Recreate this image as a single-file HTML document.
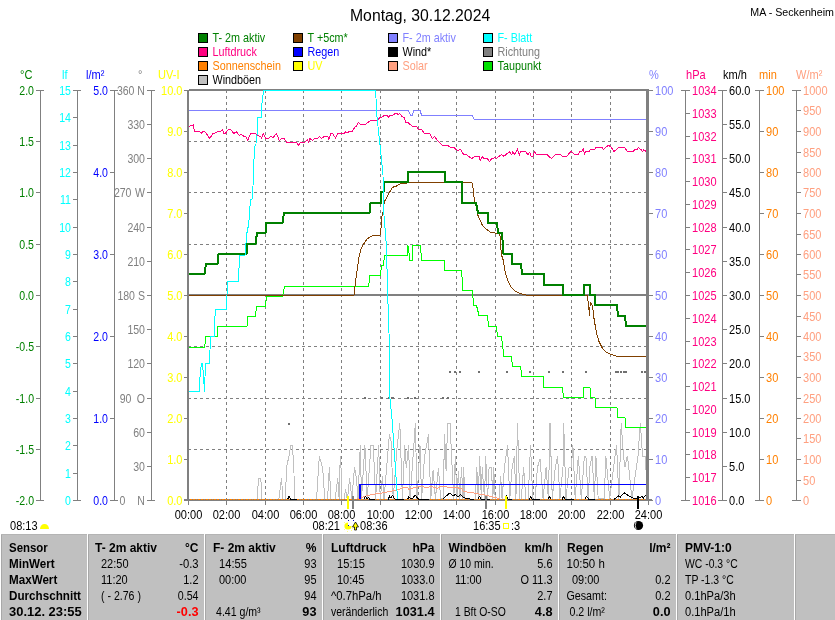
<!DOCTYPE html><html><head><meta charset='utf-8'><style>html,body{margin:0;padding:0;background:#fff;overflow:hidden}svg{display:block;will-change:transform}</style></head><body><svg width='835' height='620' viewBox='0 0 835 620' font-family='Liberation Sans'>
<rect x='0' y='0' width='835' height='620' fill='#ffffff'/>
<text transform='translate(350,20.5) scale(0.985,1)' text-anchor='start' font-size='16' fill='#000'>Montag, 30.12.2024</text>
<text transform='translate(834,16) scale(0.93,1)' text-anchor='end' font-size='11.5' fill='#000'>MA - Seckenheim</text>
<rect x='198.5' y='33.5' width='9' height='9' fill='#008000' stroke='#000' stroke-width='1'/>
<text transform='translate(212.5,42) scale(0.9,1)' text-anchor='start' font-size='12' fill='#008000'>T- 2m aktiv</text>
<rect x='198.5' y='47.5' width='9' height='9' fill='#ff0080' stroke='#000' stroke-width='1'/>
<text transform='translate(212.5,56) scale(0.9,1)' text-anchor='start' font-size='12' fill='#ff0080'>Luftdruck</text>
<rect x='198.5' y='61.5' width='9' height='9' fill='#ff8000' stroke='#000' stroke-width='1'/>
<text transform='translate(212.5,70) scale(0.9,1)' text-anchor='start' font-size='12' fill='#ff8000'>Sonnenschein</text>
<rect x='198.5' y='75.5' width='9' height='9' fill='#c0c0c0' stroke='#000' stroke-width='1'/>
<text transform='translate(212.5,84) scale(0.9,1)' text-anchor='start' font-size='12' fill='#000000'>Windböen</text>
<rect x='293.5' y='33.5' width='9' height='9' fill='#804000' stroke='#000' stroke-width='1'/>
<text transform='translate(307.5,42) scale(0.9,1)' text-anchor='start' font-size='12' fill='#008000'>T +5cm*</text>
<rect x='293.5' y='47.5' width='9' height='9' fill='#0000ff' stroke='#000' stroke-width='1'/>
<text transform='translate(307.5,56) scale(0.9,1)' text-anchor='start' font-size='12' fill='#0000ff'>Regen</text>
<rect x='293.5' y='61.5' width='9' height='9' fill='#ffff00' stroke='#000' stroke-width='1'/>
<text transform='translate(307.5,70) scale(0.9,1)' text-anchor='start' font-size='12' fill='#ffff00'>UV</text>
<rect x='388.5' y='33.5' width='9' height='9' fill='#8080ff' stroke='#000' stroke-width='1'/>
<text transform='translate(402.5,42) scale(0.9,1)' text-anchor='start' font-size='12' fill='#8080ff'>F- 2m aktiv</text>
<rect x='388.5' y='47.5' width='9' height='9' fill='#000000' stroke='#000' stroke-width='1'/>
<text transform='translate(402.5,56) scale(0.9,1)' text-anchor='start' font-size='12' fill='#000000'>Wind*</text>
<rect x='388.5' y='61.5' width='9' height='9' fill='#ffa080' stroke='#000' stroke-width='1'/>
<text transform='translate(402.5,70) scale(0.9,1)' text-anchor='start' font-size='12' fill='#ffa080'>Solar</text>
<rect x='483.5' y='33.5' width='9' height='9' fill='#00ffff' stroke='#000' stroke-width='1'/>
<text transform='translate(497.5,42) scale(0.9,1)' text-anchor='start' font-size='12' fill='#00ffff'>F- Blatt</text>
<rect x='483.5' y='47.5' width='9' height='9' fill='#808080' stroke='#000' stroke-width='1'/>
<text transform='translate(497.5,56) scale(0.9,1)' text-anchor='start' font-size='12' fill='#808080'>Richtung</text>
<rect x='483.5' y='61.5' width='9' height='9' fill='#00e000' stroke='#000' stroke-width='1'/>
<text transform='translate(497.5,70) scale(0.9,1)' text-anchor='start' font-size='12' fill='#008000'>Taupunkt</text>
<text transform='translate(20,79) scale(0.92,1)' text-anchor='start' font-size='12' fill='#008000'>°C</text>
<text transform='translate(62,79) scale(0.92,1)' text-anchor='start' font-size='12' fill='#00ffff'>lf</text>
<text transform='translate(86,79) scale(0.92,1)' text-anchor='start' font-size='12' fill='#0000ff'>l/m²</text>
<text transform='translate(138,79) scale(0.92,1)' text-anchor='start' font-size='12' fill='#808080'>°</text>
<text transform='translate(158,79) scale(0.92,1)' text-anchor='start' font-size='12' fill='#ffff00'>UV-I</text>
<text transform='translate(649,79) scale(0.92,1)' text-anchor='start' font-size='12' fill='#8080ff'>%</text>
<text transform='translate(686,79) scale(0.92,1)' text-anchor='start' font-size='12' fill='#ff0080'>hPa</text>
<text transform='translate(723,79) scale(0.92,1)' text-anchor='start' font-size='12' fill='#000000'>km/h</text>
<text transform='translate(759,79) scale(0.92,1)' text-anchor='start' font-size='12' fill='#ff8000'>min</text>
<text transform='translate(796,79) scale(0.92,1)' text-anchor='start' font-size='12' fill='#ffa080'>W/m²</text>
<rect x='40' y='90' width='1' height='411' fill='#808080'/>
<rect x='36' y='90' width='8' height='1' fill='#808080'/>
<rect x='36' y='500' width='8' height='1' fill='#808080'/>
<text transform='translate(34,95) scale(0.88,1)' text-anchor='end' font-size='12' fill='#008000'>2.0</text>
<rect x='36' y='141' width='4' height='1' fill='#808080'/>
<text transform='translate(34,146) scale(0.88,1)' text-anchor='end' font-size='12' fill='#008000'>1.5</text>
<rect x='36' y='192' width='4' height='1' fill='#808080'/>
<text transform='translate(34,197) scale(0.88,1)' text-anchor='end' font-size='12' fill='#008000'>1.0</text>
<rect x='36' y='244' width='4' height='1' fill='#808080'/>
<text transform='translate(34,249) scale(0.88,1)' text-anchor='end' font-size='12' fill='#008000'>0.5</text>
<rect x='36' y='295' width='4' height='1' fill='#808080'/>
<text transform='translate(34,300) scale(0.88,1)' text-anchor='end' font-size='12' fill='#008000'>0.0</text>
<rect x='36' y='346' width='4' height='1' fill='#808080'/>
<text transform='translate(34,351) scale(0.88,1)' text-anchor='end' font-size='12' fill='#008000'>-0.5</text>
<rect x='36' y='398' width='4' height='1' fill='#808080'/>
<text transform='translate(34,403) scale(0.88,1)' text-anchor='end' font-size='12' fill='#008000'>-1.0</text>
<rect x='36' y='449' width='4' height='1' fill='#808080'/>
<text transform='translate(34,454) scale(0.88,1)' text-anchor='end' font-size='12' fill='#008000'>-1.5</text>
<text transform='translate(34,505) scale(0.88,1)' text-anchor='end' font-size='12' fill='#008000'>-2.0</text>
<rect x='77' y='90' width='1' height='411' fill='#808080'/>
<rect x='73' y='90' width='8' height='1' fill='#808080'/>
<rect x='73' y='500' width='8' height='1' fill='#808080'/>
<text transform='translate(71,95) scale(0.88,1)' text-anchor='end' font-size='12' fill='#00ffff'>15</text>
<rect x='73' y='117' width='4' height='1' fill='#808080'/>
<text transform='translate(71,122) scale(0.88,1)' text-anchor='end' font-size='12' fill='#00ffff'>14</text>
<rect x='73' y='145' width='4' height='1' fill='#808080'/>
<text transform='translate(71,150) scale(0.88,1)' text-anchor='end' font-size='12' fill='#00ffff'>13</text>
<rect x='73' y='172' width='4' height='1' fill='#808080'/>
<text transform='translate(71,177) scale(0.88,1)' text-anchor='end' font-size='12' fill='#00ffff'>12</text>
<rect x='73' y='199' width='4' height='1' fill='#808080'/>
<text transform='translate(71,204) scale(0.88,1)' text-anchor='end' font-size='12' fill='#00ffff'>11</text>
<rect x='73' y='227' width='4' height='1' fill='#808080'/>
<text transform='translate(71,232) scale(0.88,1)' text-anchor='end' font-size='12' fill='#00ffff'>10</text>
<rect x='73' y='254' width='4' height='1' fill='#808080'/>
<text transform='translate(71,259) scale(0.88,1)' text-anchor='end' font-size='12' fill='#00ffff'>9</text>
<rect x='73' y='281' width='4' height='1' fill='#808080'/>
<text transform='translate(71,286) scale(0.88,1)' text-anchor='end' font-size='12' fill='#00ffff'>8</text>
<rect x='73' y='309' width='4' height='1' fill='#808080'/>
<text transform='translate(71,314) scale(0.88,1)' text-anchor='end' font-size='12' fill='#00ffff'>7</text>
<rect x='73' y='336' width='4' height='1' fill='#808080'/>
<text transform='translate(71,341) scale(0.88,1)' text-anchor='end' font-size='12' fill='#00ffff'>6</text>
<rect x='73' y='363' width='4' height='1' fill='#808080'/>
<text transform='translate(71,368) scale(0.88,1)' text-anchor='end' font-size='12' fill='#00ffff'>5</text>
<rect x='73' y='391' width='4' height='1' fill='#808080'/>
<text transform='translate(71,396) scale(0.88,1)' text-anchor='end' font-size='12' fill='#00ffff'>4</text>
<rect x='73' y='418' width='4' height='1' fill='#808080'/>
<text transform='translate(71,423) scale(0.88,1)' text-anchor='end' font-size='12' fill='#00ffff'>3</text>
<rect x='73' y='445' width='4' height='1' fill='#808080'/>
<text transform='translate(71,450) scale(0.88,1)' text-anchor='end' font-size='12' fill='#00ffff'>2</text>
<rect x='73' y='473' width='4' height='1' fill='#808080'/>
<text transform='translate(71,478) scale(0.88,1)' text-anchor='end' font-size='12' fill='#00ffff'>1</text>
<text transform='translate(71,505) scale(0.88,1)' text-anchor='end' font-size='12' fill='#00ffff'>0</text>
<rect x='114' y='90' width='1' height='411' fill='#808080'/>
<rect x='110' y='90' width='8' height='1' fill='#808080'/>
<rect x='110' y='500' width='8' height='1' fill='#808080'/>
<text transform='translate(108,95) scale(0.88,1)' text-anchor='end' font-size='12' fill='#0000ff'>5.0</text>
<rect x='110' y='172' width='4' height='1' fill='#808080'/>
<text transform='translate(108,177) scale(0.88,1)' text-anchor='end' font-size='12' fill='#0000ff'>4.0</text>
<rect x='110' y='254' width='4' height='1' fill='#808080'/>
<text transform='translate(108,259) scale(0.88,1)' text-anchor='end' font-size='12' fill='#0000ff'>3.0</text>
<rect x='110' y='336' width='4' height='1' fill='#808080'/>
<text transform='translate(108,341) scale(0.88,1)' text-anchor='end' font-size='12' fill='#0000ff'>2.0</text>
<rect x='110' y='418' width='4' height='1' fill='#808080'/>
<text transform='translate(108,423) scale(0.88,1)' text-anchor='end' font-size='12' fill='#0000ff'>1.0</text>
<text transform='translate(108,505) scale(0.88,1)' text-anchor='end' font-size='12' fill='#0000ff'>0.0</text>
<rect x='151' y='90' width='1' height='411' fill='#808080'/>
<rect x='147' y='90' width='8' height='1' fill='#808080'/>
<rect x='147' y='500' width='8' height='1' fill='#808080'/>
<rect x='147' y='124' width='4' height='1' fill='#808080'/>
<text transform='translate(145,129) scale(0.88,1)' text-anchor='end' font-size='12' fill='#808080'>330</text>
<rect x='147' y='158' width='4' height='1' fill='#808080'/>
<text transform='translate(145,163) scale(0.88,1)' text-anchor='end' font-size='12' fill='#808080'>300</text>
<rect x='147' y='192' width='4' height='1' fill='#808080'/>
<rect x='147' y='227' width='4' height='1' fill='#808080'/>
<text transform='translate(145,232) scale(0.88,1)' text-anchor='end' font-size='12' fill='#808080'>240</text>
<rect x='147' y='261' width='4' height='1' fill='#808080'/>
<text transform='translate(145,266) scale(0.88,1)' text-anchor='end' font-size='12' fill='#808080'>210</text>
<rect x='147' y='295' width='4' height='1' fill='#808080'/>
<rect x='147' y='329' width='4' height='1' fill='#808080'/>
<text transform='translate(145,334) scale(0.88,1)' text-anchor='end' font-size='12' fill='#808080'>150</text>
<rect x='147' y='363' width='4' height='1' fill='#808080'/>
<text transform='translate(145,368) scale(0.88,1)' text-anchor='end' font-size='12' fill='#808080'>120</text>
<rect x='147' y='398' width='4' height='1' fill='#808080'/>
<rect x='147' y='432' width='4' height='1' fill='#808080'/>
<text transform='translate(145,437) scale(0.88,1)' text-anchor='end' font-size='12' fill='#808080'>60</text>
<rect x='147' y='466' width='4' height='1' fill='#808080'/>
<text transform='translate(145,471) scale(0.88,1)' text-anchor='end' font-size='12' fill='#808080'>30</text>
<text transform='translate(134.5,95) scale(0.88,1)' text-anchor='end' font-size='12' fill='#808080'>360</text>
<text transform='translate(145,95) scale(0.88,1)' text-anchor='end' font-size='12' fill='#808080'>N</text>
<text transform='translate(131.5,197) scale(0.88,1)' text-anchor='end' font-size='12' fill='#808080'>270</text>
<text transform='translate(145,197) scale(0.88,1)' text-anchor='end' font-size='12' fill='#808080'>W</text>
<text transform='translate(135,300) scale(0.88,1)' text-anchor='end' font-size='12' fill='#808080'>180</text>
<text transform='translate(145,300) scale(0.88,1)' text-anchor='end' font-size='12' fill='#808080'>S</text>
<text transform='translate(131.5,403) scale(0.88,1)' text-anchor='end' font-size='12' fill='#808080'>90</text>
<text transform='translate(145,403) scale(0.88,1)' text-anchor='end' font-size='12' fill='#808080'>O</text>
<text transform='translate(125.5,505) scale(0.88,1)' text-anchor='end' font-size='12' fill='#808080'>0</text>
<text transform='translate(145,505) scale(0.88,1)' text-anchor='end' font-size='12' fill='#808080'>N</text>
<rect x='184' y='90' width='3' height='1' fill='#808080'/>
<text transform='translate(182.5,95) scale(0.92,1)' text-anchor='end' font-size='12' fill='#ffff00'>10.0</text>
<rect x='184' y='131' width='3' height='1' fill='#808080'/>
<text transform='translate(182.5,136) scale(0.92,1)' text-anchor='end' font-size='12' fill='#ffff00'>9.0</text>
<rect x='184' y='172' width='3' height='1' fill='#808080'/>
<text transform='translate(182.5,177) scale(0.92,1)' text-anchor='end' font-size='12' fill='#ffff00'>8.0</text>
<rect x='184' y='213' width='3' height='1' fill='#808080'/>
<text transform='translate(182.5,218) scale(0.92,1)' text-anchor='end' font-size='12' fill='#ffff00'>7.0</text>
<rect x='184' y='254' width='3' height='1' fill='#808080'/>
<text transform='translate(182.5,259) scale(0.92,1)' text-anchor='end' font-size='12' fill='#ffff00'>6.0</text>
<rect x='184' y='295' width='3' height='1' fill='#808080'/>
<text transform='translate(182.5,300) scale(0.92,1)' text-anchor='end' font-size='12' fill='#ffff00'>5.0</text>
<rect x='184' y='336' width='3' height='1' fill='#808080'/>
<text transform='translate(182.5,341) scale(0.92,1)' text-anchor='end' font-size='12' fill='#ffff00'>4.0</text>
<rect x='184' y='377' width='3' height='1' fill='#808080'/>
<text transform='translate(182.5,382) scale(0.92,1)' text-anchor='end' font-size='12' fill='#ffff00'>3.0</text>
<rect x='184' y='418' width='3' height='1' fill='#808080'/>
<text transform='translate(182.5,423) scale(0.92,1)' text-anchor='end' font-size='12' fill='#ffff00'>2.0</text>
<rect x='184' y='459' width='3' height='1' fill='#808080'/>
<text transform='translate(182.5,464) scale(0.92,1)' text-anchor='end' font-size='12' fill='#ffff00'>1.0</text>
<rect x='184' y='500' width='3' height='1' fill='#808080'/>
<text transform='translate(182.5,505) scale(0.92,1)' text-anchor='end' font-size='12' fill='#ffff00'>0.0</text>
<rect x='649' y='90' width='4' height='1' fill='#808080'/>
<text transform='translate(655,95) scale(0.92,1)' text-anchor='start' font-size='12' fill='#8080ff'>100</text>
<rect x='649' y='131' width='4' height='1' fill='#808080'/>
<text transform='translate(655,136) scale(0.92,1)' text-anchor='start' font-size='12' fill='#8080ff'>90</text>
<rect x='649' y='172' width='4' height='1' fill='#808080'/>
<text transform='translate(655,177) scale(0.92,1)' text-anchor='start' font-size='12' fill='#8080ff'>80</text>
<rect x='649' y='213' width='4' height='1' fill='#808080'/>
<text transform='translate(655,218) scale(0.92,1)' text-anchor='start' font-size='12' fill='#8080ff'>70</text>
<rect x='649' y='254' width='4' height='1' fill='#808080'/>
<text transform='translate(655,259) scale(0.92,1)' text-anchor='start' font-size='12' fill='#8080ff'>60</text>
<rect x='649' y='295' width='4' height='1' fill='#808080'/>
<text transform='translate(655,300) scale(0.92,1)' text-anchor='start' font-size='12' fill='#8080ff'>50</text>
<rect x='649' y='336' width='4' height='1' fill='#808080'/>
<text transform='translate(655,341) scale(0.92,1)' text-anchor='start' font-size='12' fill='#8080ff'>40</text>
<rect x='649' y='377' width='4' height='1' fill='#808080'/>
<text transform='translate(655,382) scale(0.92,1)' text-anchor='start' font-size='12' fill='#8080ff'>30</text>
<rect x='649' y='418' width='4' height='1' fill='#808080'/>
<text transform='translate(655,423) scale(0.92,1)' text-anchor='start' font-size='12' fill='#8080ff'>20</text>
<rect x='649' y='459' width='4' height='1' fill='#808080'/>
<text transform='translate(655,464) scale(0.92,1)' text-anchor='start' font-size='12' fill='#8080ff'>10</text>
<rect x='649' y='500' width='4' height='1' fill='#808080'/>
<text transform='translate(655,505) scale(0.92,1)' text-anchor='start' font-size='12' fill='#8080ff'>0</text>
<rect x='685' y='90' width='1' height='411' fill='#808080'/>
<rect x='681' y='90' width='9' height='1' fill='#808080'/>
<rect x='681' y='500' width='9' height='1' fill='#808080'/>
<text transform='translate(692,95) scale(0.92,1)' text-anchor='start' font-size='12' fill='#ff0080'>1034</text>
<rect x='686' y='113' width='4' height='1' fill='#808080'/>
<text transform='translate(692,118) scale(0.92,1)' text-anchor='start' font-size='12' fill='#ff0080'>1033</text>
<rect x='686' y='136' width='4' height='1' fill='#808080'/>
<text transform='translate(692,141) scale(0.92,1)' text-anchor='start' font-size='12' fill='#ff0080'>1032</text>
<rect x='686' y='158' width='4' height='1' fill='#808080'/>
<text transform='translate(692,163) scale(0.92,1)' text-anchor='start' font-size='12' fill='#ff0080'>1031</text>
<rect x='686' y='181' width='4' height='1' fill='#808080'/>
<text transform='translate(692,186) scale(0.92,1)' text-anchor='start' font-size='12' fill='#ff0080'>1030</text>
<rect x='686' y='204' width='4' height='1' fill='#808080'/>
<text transform='translate(692,209) scale(0.92,1)' text-anchor='start' font-size='12' fill='#ff0080'>1029</text>
<rect x='686' y='227' width='4' height='1' fill='#808080'/>
<text transform='translate(692,232) scale(0.92,1)' text-anchor='start' font-size='12' fill='#ff0080'>1028</text>
<rect x='686' y='249' width='4' height='1' fill='#808080'/>
<text transform='translate(692,254) scale(0.92,1)' text-anchor='start' font-size='12' fill='#ff0080'>1027</text>
<rect x='686' y='272' width='4' height='1' fill='#808080'/>
<text transform='translate(692,277) scale(0.92,1)' text-anchor='start' font-size='12' fill='#ff0080'>1026</text>
<rect x='686' y='295' width='4' height='1' fill='#808080'/>
<text transform='translate(692,300) scale(0.92,1)' text-anchor='start' font-size='12' fill='#ff0080'>1025</text>
<rect x='686' y='318' width='4' height='1' fill='#808080'/>
<text transform='translate(692,323) scale(0.92,1)' text-anchor='start' font-size='12' fill='#ff0080'>1024</text>
<rect x='686' y='341' width='4' height='1' fill='#808080'/>
<text transform='translate(692,346) scale(0.92,1)' text-anchor='start' font-size='12' fill='#ff0080'>1023</text>
<rect x='686' y='363' width='4' height='1' fill='#808080'/>
<text transform='translate(692,368) scale(0.92,1)' text-anchor='start' font-size='12' fill='#ff0080'>1022</text>
<rect x='686' y='386' width='4' height='1' fill='#808080'/>
<text transform='translate(692,391) scale(0.92,1)' text-anchor='start' font-size='12' fill='#ff0080'>1021</text>
<rect x='686' y='409' width='4' height='1' fill='#808080'/>
<text transform='translate(692,414) scale(0.92,1)' text-anchor='start' font-size='12' fill='#ff0080'>1020</text>
<rect x='686' y='432' width='4' height='1' fill='#808080'/>
<text transform='translate(692,437) scale(0.92,1)' text-anchor='start' font-size='12' fill='#ff0080'>1019</text>
<rect x='686' y='454' width='4' height='1' fill='#808080'/>
<text transform='translate(692,459) scale(0.92,1)' text-anchor='start' font-size='12' fill='#ff0080'>1018</text>
<rect x='686' y='477' width='4' height='1' fill='#808080'/>
<text transform='translate(692,482) scale(0.92,1)' text-anchor='start' font-size='12' fill='#ff0080'>1017</text>
<text transform='translate(692,505) scale(0.92,1)' text-anchor='start' font-size='12' fill='#ff0080'>1016</text>
<rect x='722' y='90' width='1' height='411' fill='#808080'/>
<rect x='718' y='90' width='9' height='1' fill='#808080'/>
<rect x='718' y='500' width='9' height='1' fill='#808080'/>
<text transform='translate(729,95) scale(0.92,1)' text-anchor='start' font-size='12' fill='#000000'>60.0</text>
<rect x='723' y='124' width='4' height='1' fill='#808080'/>
<text transform='translate(729,129) scale(0.92,1)' text-anchor='start' font-size='12' fill='#000000'>55.0</text>
<rect x='723' y='158' width='4' height='1' fill='#808080'/>
<text transform='translate(729,163) scale(0.92,1)' text-anchor='start' font-size='12' fill='#000000'>50.0</text>
<rect x='723' y='192' width='4' height='1' fill='#808080'/>
<text transform='translate(729,197) scale(0.92,1)' text-anchor='start' font-size='12' fill='#000000'>45.0</text>
<rect x='723' y='227' width='4' height='1' fill='#808080'/>
<text transform='translate(729,232) scale(0.92,1)' text-anchor='start' font-size='12' fill='#000000'>40.0</text>
<rect x='723' y='261' width='4' height='1' fill='#808080'/>
<text transform='translate(729,266) scale(0.92,1)' text-anchor='start' font-size='12' fill='#000000'>35.0</text>
<rect x='723' y='295' width='4' height='1' fill='#808080'/>
<text transform='translate(729,300) scale(0.92,1)' text-anchor='start' font-size='12' fill='#000000'>30.0</text>
<rect x='723' y='329' width='4' height='1' fill='#808080'/>
<text transform='translate(729,334) scale(0.92,1)' text-anchor='start' font-size='12' fill='#000000'>25.0</text>
<rect x='723' y='363' width='4' height='1' fill='#808080'/>
<text transform='translate(729,368) scale(0.92,1)' text-anchor='start' font-size='12' fill='#000000'>20.0</text>
<rect x='723' y='398' width='4' height='1' fill='#808080'/>
<text transform='translate(729,403) scale(0.92,1)' text-anchor='start' font-size='12' fill='#000000'>15.0</text>
<rect x='723' y='432' width='4' height='1' fill='#808080'/>
<text transform='translate(729,437) scale(0.92,1)' text-anchor='start' font-size='12' fill='#000000'>10.0</text>
<rect x='723' y='466' width='4' height='1' fill='#808080'/>
<text transform='translate(729,471) scale(0.92,1)' text-anchor='start' font-size='12' fill='#000000'>5.0</text>
<text transform='translate(729,505) scale(0.92,1)' text-anchor='start' font-size='12' fill='#000000'>0.0</text>
<rect x='759' y='90' width='1' height='411' fill='#808080'/>
<rect x='755' y='90' width='9' height='1' fill='#808080'/>
<rect x='755' y='500' width='9' height='1' fill='#808080'/>
<text transform='translate(766,95) scale(0.92,1)' text-anchor='start' font-size='12' fill='#ff8000'>100</text>
<rect x='760' y='131' width='4' height='1' fill='#808080'/>
<text transform='translate(766,136) scale(0.92,1)' text-anchor='start' font-size='12' fill='#ff8000'>90</text>
<rect x='760' y='172' width='4' height='1' fill='#808080'/>
<text transform='translate(766,177) scale(0.92,1)' text-anchor='start' font-size='12' fill='#ff8000'>80</text>
<rect x='760' y='213' width='4' height='1' fill='#808080'/>
<text transform='translate(766,218) scale(0.92,1)' text-anchor='start' font-size='12' fill='#ff8000'>70</text>
<rect x='760' y='254' width='4' height='1' fill='#808080'/>
<text transform='translate(766,259) scale(0.92,1)' text-anchor='start' font-size='12' fill='#ff8000'>60</text>
<rect x='760' y='295' width='4' height='1' fill='#808080'/>
<text transform='translate(766,300) scale(0.92,1)' text-anchor='start' font-size='12' fill='#ff8000'>50</text>
<rect x='760' y='336' width='4' height='1' fill='#808080'/>
<text transform='translate(766,341) scale(0.92,1)' text-anchor='start' font-size='12' fill='#ff8000'>40</text>
<rect x='760' y='377' width='4' height='1' fill='#808080'/>
<text transform='translate(766,382) scale(0.92,1)' text-anchor='start' font-size='12' fill='#ff8000'>30</text>
<rect x='760' y='418' width='4' height='1' fill='#808080'/>
<text transform='translate(766,423) scale(0.92,1)' text-anchor='start' font-size='12' fill='#ff8000'>20</text>
<rect x='760' y='459' width='4' height='1' fill='#808080'/>
<text transform='translate(766,464) scale(0.92,1)' text-anchor='start' font-size='12' fill='#ff8000'>10</text>
<text transform='translate(766,505) scale(0.92,1)' text-anchor='start' font-size='12' fill='#ff8000'>0</text>
<rect x='796' y='90' width='1' height='411' fill='#808080'/>
<rect x='792' y='90' width='9' height='1' fill='#808080'/>
<rect x='792' y='500' width='9' height='1' fill='#808080'/>
<text transform='translate(803,95) scale(0.92,1)' text-anchor='start' font-size='12' fill='#ffa080'>1000</text>
<rect x='797' y='110' width='4' height='1' fill='#808080'/>
<text transform='translate(803,115) scale(0.92,1)' text-anchor='start' font-size='12' fill='#ffa080'>950</text>
<rect x='797' y='131' width='4' height='1' fill='#808080'/>
<text transform='translate(803,136) scale(0.92,1)' text-anchor='start' font-size='12' fill='#ffa080'>900</text>
<rect x='797' y='152' width='4' height='1' fill='#808080'/>
<text transform='translate(803,157) scale(0.92,1)' text-anchor='start' font-size='12' fill='#ffa080'>850</text>
<rect x='797' y='172' width='4' height='1' fill='#808080'/>
<text transform='translate(803,177) scale(0.92,1)' text-anchor='start' font-size='12' fill='#ffa080'>800</text>
<rect x='797' y='192' width='4' height='1' fill='#808080'/>
<text transform='translate(803,197) scale(0.92,1)' text-anchor='start' font-size='12' fill='#ffa080'>750</text>
<rect x='797' y='213' width='4' height='1' fill='#808080'/>
<text transform='translate(803,218) scale(0.92,1)' text-anchor='start' font-size='12' fill='#ffa080'>700</text>
<rect x='797' y='234' width='4' height='1' fill='#808080'/>
<text transform='translate(803,239) scale(0.92,1)' text-anchor='start' font-size='12' fill='#ffa080'>650</text>
<rect x='797' y='254' width='4' height='1' fill='#808080'/>
<text transform='translate(803,259) scale(0.92,1)' text-anchor='start' font-size='12' fill='#ffa080'>600</text>
<rect x='797' y='274' width='4' height='1' fill='#808080'/>
<text transform='translate(803,279) scale(0.92,1)' text-anchor='start' font-size='12' fill='#ffa080'>550</text>
<rect x='797' y='295' width='4' height='1' fill='#808080'/>
<text transform='translate(803,300) scale(0.92,1)' text-anchor='start' font-size='12' fill='#ffa080'>500</text>
<rect x='797' y='316' width='4' height='1' fill='#808080'/>
<text transform='translate(803,321) scale(0.92,1)' text-anchor='start' font-size='12' fill='#ffa080'>450</text>
<rect x='797' y='336' width='4' height='1' fill='#808080'/>
<text transform='translate(803,341) scale(0.92,1)' text-anchor='start' font-size='12' fill='#ffa080'>400</text>
<rect x='797' y='356' width='4' height='1' fill='#808080'/>
<text transform='translate(803,361) scale(0.92,1)' text-anchor='start' font-size='12' fill='#ffa080'>350</text>
<rect x='797' y='377' width='4' height='1' fill='#808080'/>
<text transform='translate(803,382) scale(0.92,1)' text-anchor='start' font-size='12' fill='#ffa080'>300</text>
<rect x='797' y='398' width='4' height='1' fill='#808080'/>
<text transform='translate(803,403) scale(0.92,1)' text-anchor='start' font-size='12' fill='#ffa080'>250</text>
<rect x='797' y='418' width='4' height='1' fill='#808080'/>
<text transform='translate(803,423) scale(0.92,1)' text-anchor='start' font-size='12' fill='#ffa080'>200</text>
<rect x='797' y='438' width='4' height='1' fill='#808080'/>
<text transform='translate(803,443) scale(0.92,1)' text-anchor='start' font-size='12' fill='#ffa080'>150</text>
<rect x='797' y='459' width='4' height='1' fill='#808080'/>
<text transform='translate(803,464) scale(0.92,1)' text-anchor='start' font-size='12' fill='#ffa080'>100</text>
<rect x='797' y='480' width='4' height='1' fill='#808080'/>
<text transform='translate(803,485) scale(0.92,1)' text-anchor='start' font-size='12' fill='#ffa080'>50</text>
<text transform='translate(803,505) scale(0.92,1)' text-anchor='start' font-size='12' fill='#ffa080'>0</text>
<g id='plot'>
<line x1='226.5' y1='90' x2='226.5' y2='500' stroke='#808080' stroke-width='1' stroke-dasharray='3 3' shape-rendering='crispEdges'/>
<line x1='265.5' y1='90' x2='265.5' y2='500' stroke='#808080' stroke-width='1' stroke-dasharray='3 3' shape-rendering='crispEdges'/>
<line x1='303.5' y1='90' x2='303.5' y2='500' stroke='#808080' stroke-width='1' stroke-dasharray='3 3' shape-rendering='crispEdges'/>
<line x1='341.5' y1='90' x2='341.5' y2='500' stroke='#808080' stroke-width='1' stroke-dasharray='3 3' shape-rendering='crispEdges'/>
<line x1='380.5' y1='90' x2='380.5' y2='500' stroke='#808080' stroke-width='1' stroke-dasharray='3 3' shape-rendering='crispEdges'/>
<line x1='418.5' y1='90' x2='418.5' y2='500' stroke='#808080' stroke-width='1' stroke-dasharray='3 3' shape-rendering='crispEdges'/>
<line x1='456.5' y1='90' x2='456.5' y2='500' stroke='#808080' stroke-width='1' stroke-dasharray='3 3' shape-rendering='crispEdges'/>
<line x1='495.5' y1='90' x2='495.5' y2='500' stroke='#808080' stroke-width='1' stroke-dasharray='3 3' shape-rendering='crispEdges'/>
<line x1='533.5' y1='90' x2='533.5' y2='500' stroke='#808080' stroke-width='1' stroke-dasharray='3 3' shape-rendering='crispEdges'/>
<line x1='571.5' y1='90' x2='571.5' y2='500' stroke='#808080' stroke-width='1' stroke-dasharray='3 3' shape-rendering='crispEdges'/>
<line x1='610.5' y1='90' x2='610.5' y2='500' stroke='#808080' stroke-width='1' stroke-dasharray='3 3' shape-rendering='crispEdges'/>
<line x1='188' y1='141.5' x2='646' y2='141.5' stroke='#808080' stroke-width='1' stroke-dasharray='3 3' shape-rendering='crispEdges'/>
<line x1='188' y1='192.5' x2='646' y2='192.5' stroke='#808080' stroke-width='1' stroke-dasharray='3 3' shape-rendering='crispEdges'/>
<line x1='188' y1='244.5' x2='646' y2='244.5' stroke='#808080' stroke-width='1' stroke-dasharray='3 3' shape-rendering='crispEdges'/>
<line x1='188' y1='346.5' x2='646' y2='346.5' stroke='#808080' stroke-width='1' stroke-dasharray='3 3' shape-rendering='crispEdges'/>
<line x1='188' y1='398.5' x2='646' y2='398.5' stroke='#808080' stroke-width='1' stroke-dasharray='3 3' shape-rendering='crispEdges'/>
<line x1='188' y1='449.5' x2='646' y2='449.5' stroke='#808080' stroke-width='1' stroke-dasharray='3 3' shape-rendering='crispEdges'/>
<rect x='189' y='294' width='458' height='2' fill='#808080'/>
<polyline points='189.00,500.00 257.00,500.00 258.60,478.30 260.80,478.30 262.00,500.00 278.80,500.00 281.50,478.00 283.00,500.00 285.00,500.00 287.00,465.00 289.00,456.00 291.00,445.00 292.50,445.00 294.00,473.00 294.20,500.00 316.50,500.00 319.30,456.40 322.70,468.00 324.80,500.00 327.50,500.00 329.30,467.30 331.00,500.00 335.00,500.00 337.80,478.30 339.20,500.00 339.80,467.30 340.80,456.40 341.60,500.00 344.00,500.00 345.60,489.30 347.40,500.00 349.60,478.10 351.90,498.80 354.50,467.40 356.50,478.90 358.00,498.80 360.30,445.20 361.50,498.80 364.90,445.20 367.20,498.80 371.00,445.20 373.30,445.20 375.60,498.80 378.70,445.20 380.20,498.80 382.50,475.80 384.00,498.80 389.40,434.50 391.00,440.60 393.20,498.80 397.00,448.30 399.80,423.00 402.40,498.80 404.70,445.20 406.30,468.20 408.60,445.20 410.10,498.80 413.10,456.00 415.40,423.00 417.00,498.80 420.00,445.20 421.60,498.80 424.60,456.00 428.50,434.50 430.80,498.80 433.10,469.70 435.40,498.80 438.40,468.20 440.70,498.80 443.10,499.00 444.60,434.50 446.10,471.30 447.70,423.00 450.00,423.00 452.30,471.30 453.80,499.00 455.30,456.00 456.90,499.00 458.40,471.30 459.90,499.00 461.50,467.50 463.00,499.00 463.80,467.50 464.50,499.00 475.30,499.00 476.80,467.50 478.30,499.00 479.60,456.00 481.40,499.00 482.20,467.50 484.50,499.00 485.70,456.00 487.50,499.00 489.10,467.50 491.40,467.50 492.90,499.00 493.70,467.50 495.20,499.00 499.00,499.00 500.60,476.00 502.10,499.00 504.40,467.50 507.50,445.30 509.80,499.00 512.10,467.50 514.40,456.00 515.90,499.00 517.50,423.00 519.80,499.00 521.30,499.00 523.60,467.50 525.90,499.00 528.20,499.00 530.50,445.30 532.80,499.00 535.10,499.00 537.40,467.50 540.00,459.00 543.10,498.80 546.10,467.40 548.40,498.80 550.00,423.00 552.30,498.80 555.30,467.40 557.60,456.00 559.90,498.80 563.00,467.40 563.70,423.00 566.00,498.80 569.10,467.40 571.40,467.40 572.90,445.20 575.20,498.80 578.30,456.00 581.30,498.80 584.40,456.00 585.90,456.00 588.20,498.80 589.80,467.40 592.10,456.00 594.40,498.80 595.90,456.00 598.20,498.80 604.30,498.80 605.80,456.00 609.70,498.80 615.00,456.00 616.60,445.20 618.90,498.80 621.20,423.00 623.50,456.00 625.00,467.40 627.30,456.00 628.80,467.40 631.90,498.80 638.00,456.00 640.30,423.00 642.60,456.00 645.70,456.00 646.00,470.00' fill='none' stroke='#c0c0c0' stroke-width='1' stroke-linejoin='miter' shape-rendering='crispEdges'/>
<polyline points='355.00,499.50 361.30,498.00 364.00,496.50 372.00,494.50 384.60,492.60 390.90,491.20 395.40,490.30 399.00,489.40 403.50,487.20 407.10,487.20 408.90,489.40 412.50,488.10 417.90,487.20 421.50,485.80 426.00,488.10 430.70,486.20 437.50,488.60 440.30,486.20 445.10,486.20 448.00,487.70 461.40,488.10 463.30,491.50 471.00,492.50 478.60,493.90 486.30,495.30 492.00,496.80 497.80,498.20 500.70,499.60' fill='none' stroke='#ffa080' stroke-width='1' stroke-linejoin='miter' shape-rendering='crispEdges'/>
<rect x='359' y='484' width='2' height='16' fill='#0000ff'/>
<rect x='359' y='484' width='288' height='1' fill='#0000ff'/>
<polyline points='188.00,126.40 192.60,125.60 193.40,124.60 194.40,131.30 199.20,131.30 201.60,133.00 202.80,131.30 204.60,131.30 207.00,134.60 209.70,138.50 212.90,133.40 215.30,133.00 217.70,131.30 220.70,131.30 222.50,129.40 223.70,133.40 225.50,133.40 228.50,129.20 230.30,129.20 233.90,133.40 236.30,131.60 239.30,135.70 241.10,134.00 242.30,135.70 245.90,136.60 247.70,140.50 250.70,133.40 255.50,133.40 257.90,135.70 260.30,136.30 261.70,138.10 263.20,133.40 265.60,138.50 268.60,138.50 271.00,136.30 272.80,137.80 276.40,133.70 279.40,140.50 281.80,138.50 284.20,138.50 287.00,142.50 296.60,142.50 298.40,145.40 300.20,142.50 305.00,142.10 307.40,139.70 308.60,142.10 309.70,138.50 312.70,140.30 314.50,138.50 317.50,138.50 319.30,136.50 321.70,138.50 324.10,136.50 327.70,136.50 328.90,139.70 330.70,133.40 332.50,133.40 335.50,138.00 337.90,133.40 343.90,133.40 345.70,131.70 346.90,133.10 349.30,131.40 352.30,131.40 354.70,127.20 356.50,126.00 358.30,122.60 360.60,124.50 365.40,124.50 370.20,120.60 377.40,120.60 379.20,118.20 380.40,117.60 382.00,117.00 384.40,115.50 386.80,115.50 388.60,117.00 389.80,115.50 392.80,115.20 395.20,113.40 397.00,113.60 398.20,114.80 399.70,113.40 401.80,116.40 404.20,117.60 406.00,122.40 408.30,122.70 412.50,126.60 416.70,126.60 418.50,129.60 421.50,129.60 424.50,133.50 429.90,133.50 432.30,138.50 434.70,136.40 437.70,140.90 442.50,145.50 447.90,145.50 450.90,147.50 453.90,147.50 457.40,150.50 460.40,149.30 463.40,154.10 465.80,154.10 471.80,158.70 474.80,156.30 479.00,156.30 480.20,160.70 482.40,156.60 483.60,158.50 487.20,158.50 489.60,161.40 492.00,158.50 493.80,158.10 495.00,156.90 496.20,158.50 501.60,154.60 504.00,156.30 509.30,151.60 511.70,154.60 512.90,151.60 514.70,154.60 517.40,149.40 519.50,154.60 520.70,151.60 525.50,151.60 527.90,154.60 529.70,152.20 531.50,156.90 533.30,155.70 534.50,151.60 536.30,154.60 547.10,154.60 551.30,158.50 555.40,154.60 560.20,154.60 562.60,156.30 566.80,156.30 571.00,151.30 574.60,154.40 578.10,154.40 579.60,151.60 582.00,150.90 583.40,149.20 584.40,154.40 585.80,151.60 589.20,151.30 590.60,149.60 594.40,149.60 595.90,147.40 602.10,147.40 603.50,149.60 608.30,145.10 611.20,147.40 614.10,151.60 618.40,147.40 624.60,147.40 627.50,151.60 632.70,151.60 634.70,149.60 637.00,149.60 638.50,147.40 640.90,149.60 642.80,151.60 643.80,149.60 646.00,151.60' fill='none' stroke='#ff0080' stroke-width='1' stroke-linejoin='miter' shape-rendering='crispEdges'/>
<polyline points='189.00,110.50 408.30,110.50 410.70,115.50 412.50,115.50 413.70,110.50 420.30,110.50 421.50,115.50 472.40,115.50 474.20,119.50 646.00,119.50' fill='none' stroke='#8080ff' stroke-width='1' stroke-linejoin='miter' shape-rendering='crispEdges'/>
<polyline points='189.00,347.50 204.50,347.50 206.00,336.50 217.50,336.50 218.00,326.50 247.00,326.50 247.50,316.50 255.50,316.50 256.50,306.50 265.50,306.50 266.50,296.50 282.50,296.50 284.50,286.50 368.50,286.50 370.00,275.50 380.50,275.50 381.50,265.50 383.50,265.50 384.50,255.50 407.50,255.50 408.00,245.50 410.00,260.50 412.50,260.50 413.00,245.50 420.50,245.50 421.50,260.50 444.50,260.50 445.00,270.50 461.50,270.50 463.00,290.50 472.50,290.50 473.50,305.50 476.50,305.50 479.00,315.50 487.50,315.50 488.50,326.50 496.00,326.50 498.00,336.50 501.50,336.50 504.00,356.50 511.50,356.50 512.50,366.50 520.50,366.50 522.00,376.50 543.50,376.50 544.00,387.50 562.50,387.50 563.50,397.50 583.50,397.50 584.00,387.50 590.00,387.50 590.50,397.50 595.00,397.50 596.00,407.50 617.00,407.50 618.00,417.50 625.00,417.50 626.00,427.50 646.00,427.50' fill='none' stroke='#00ff00' stroke-width='1' stroke-linejoin='miter' shape-rendering='crispEdges'/>
<polyline points='189.00,295.50 354.00,295.50 355.00,286.60 357.00,270.70 359.00,257.00 361.00,249.00 364.00,243.60 367.00,239.00 371.00,236.40 374.00,235.00 380.00,235.00 381.00,227.80 382.00,216.50 383.40,210.00 384.20,202.00 386.70,197.70 389.20,193.00 391.80,188.20 393.20,187.10 395.80,186.40 399.00,184.20 410.60,182.50 472.00,182.50 473.00,188.00 474.50,200.60 476.20,205.60 477.30,213.60 479.00,218.00 482.40,225.40 485.80,228.80 491.50,232.80 499.40,233.30 500.00,236.00 501.00,249.70 501.50,255.00 503.10,259.80 504.30,267.10 505.10,271.90 507.10,278.40 509.10,283.20 511.10,286.90 514.40,290.50 517.60,292.50 521.60,293.90 528.00,295.50 587.30,295.50 588.10,301.30 589.00,310.30 589.60,315.80 590.20,302.40 591.30,303.00 592.70,307.00 593.60,316.00 595.30,326.20 597.00,335.20 599.20,342.00 602.60,348.80 607.10,352.70 612.80,355.00 617.30,356.40 646.00,356.50' fill='none' stroke='#804000' stroke-width='1' stroke-linejoin='miter' shape-rendering='crispEdges'/>
<polyline points='189.00,274.00 204.50,274.00 206.00,264.00 217.50,264.00 218.50,254.00 246.50,254.00 247.00,244.00 255.50,244.00 257.00,233.00 265.50,233.00 266.00,223.00 282.50,223.00 284.00,213.00 369.50,213.00 370.50,203.00 381.00,203.00 381.00,192.00 383.50,192.00 384.50,182.00 408.00,182.00 408.00,172.00 445.00,172.00 445.00,182.00 462.00,182.00 462.50,203.00 476.00,203.00 478.00,213.00 488.00,213.00 488.00,223.00 497.00,223.00 498.00,233.00 502.00,233.00 503.50,254.00 512.00,254.00 512.00,264.00 521.00,264.00 522.00,274.00 544.00,274.00 544.00,285.00 563.00,285.00 563.00,295.00 584.00,295.00 584.00,285.00 590.00,285.00 590.00,295.00 595.00,295.00 595.00,305.00 617.00,305.00 618.00,316.00 625.00,316.00 626.00,326.00 647.00,326.00' fill='none' stroke='#008000' stroke-width='2' stroke-linejoin='miter' shape-rendering='crispEdges'/>
<rect x='449' y='371' width='2' height='2' fill='#707070'/>
<rect x='454' y='371' width='2' height='2' fill='#707070'/>
<rect x='459' y='371' width='2' height='2' fill='#707070'/>
<rect x='478' y='371' width='2' height='2' fill='#707070'/>
<rect x='506' y='371' width='2' height='2' fill='#707070'/>
<rect x='529' y='371' width='2' height='2' fill='#707070'/>
<rect x='548' y='371' width='2' height='2' fill='#707070'/>
<rect x='562' y='371' width='2' height='2' fill='#707070'/>
<rect x='585' y='371' width='2' height='2' fill='#707070'/>
<rect x='615' y='371' width='4' height='2' fill='#707070'/>
<rect x='620' y='371' width='2' height='2' fill='#707070'/>
<rect x='623' y='371' width='4' height='2' fill='#707070'/>
<rect x='641' y='371' width='2' height='2' fill='#707070'/>
<rect x='644' y='371' width='2' height='2' fill='#707070'/>
<rect x='364' y='397' width='2' height='2' fill='#707070'/>
<rect x='381' y='397' width='2' height='2' fill='#707070'/>
<rect x='388' y='397' width='2' height='2' fill='#707070'/>
<rect x='391' y='397' width='3' height='2' fill='#707070'/>
<rect x='407' y='397' width='2' height='2' fill='#707070'/>
<rect x='414' y='397' width='2' height='2' fill='#707070'/>
<rect x='442' y='397' width='2' height='2' fill='#707070'/>
<rect x='447' y='397' width='2' height='2' fill='#707070'/>
<rect x='288' y='423' width='2' height='2' fill='#707070'/>
<rect x='184' y='499' width='468' height='2' fill='#808080'/>
<line x1='193' y1='499.5' x2='646' y2='499.5' stroke='#ff8000' stroke-width='1' stroke-dasharray='2 1 1 1 2 1' shape-rendering='crispEdges'/>
<rect x='190' y='499' width='2' height='1' fill='#ff8000'/>
<polyline points='287.50,499.50 289.00,496.50 291.00,499.50 297.00,499.50' fill='none' stroke='#000000' stroke-width='1' stroke-linejoin='miter' shape-rendering='crispEdges'/>
<polyline points='363.60,499.50 365.30,496.20 367.00,498.50 368.50,497.50 370.00,499.50 375.00,499.50' fill='none' stroke='#000000' stroke-width='1' stroke-linejoin='miter' shape-rendering='crispEdges'/>
<polyline points='388.00,499.50 389.60,496.20 390.80,498.00 392.30,495.30 394.50,498.40 396.00,499.50 403.50,499.50' fill='none' stroke='#000000' stroke-width='1' stroke-linejoin='miter' shape-rendering='crispEdges'/>
<polyline points='407.50,499.50 408.90,496.60 410.50,498.50 412.50,498.40 415.20,495.30 417.90,498.40 419.00,499.50 428.70,499.50' fill='none' stroke='#000000' stroke-width='1' stroke-linejoin='miter' shape-rendering='crispEdges'/>
<polyline points='442.70,499.60 445.10,496.80 447.00,495.30 449.90,492.90 452.80,495.80 455.70,494.40 458.00,496.80 460.40,494.40 463.30,497.20 467.10,498.70 474.00,499.50' fill='none' stroke='#000000' stroke-width='1' stroke-linejoin='miter' shape-rendering='crispEdges'/>
<polyline points='477.50,499.50 479.60,496.30 481.50,499.50 490.00,499.50' fill='none' stroke='#000000' stroke-width='1' stroke-linejoin='miter' shape-rendering='crispEdges'/>
<polyline points='505.00,499.50 506.50,496.00 508.50,499.50 512.00,499.50' fill='none' stroke='#000000' stroke-width='1' stroke-linejoin='miter' shape-rendering='crispEdges'/>
<polyline points='529.00,499.50 530.70,496.50 532.50,499.50 540.00,499.50' fill='none' stroke='#000000' stroke-width='1' stroke-linejoin='miter' shape-rendering='crispEdges'/>
<polyline points='547.50,499.50 549.30,496.50 551.50,499.50' fill='none' stroke='#000000' stroke-width='1' stroke-linejoin='miter' shape-rendering='crispEdges'/>
<polyline points='562.00,499.50 563.50,496.50 565.40,499.50 574.00,499.50' fill='none' stroke='#000000' stroke-width='1' stroke-linejoin='miter' shape-rendering='crispEdges'/>
<polyline points='584.80,499.50 586.50,496.50 589.00,499.50 594.50,499.50' fill='none' stroke='#000000' stroke-width='1' stroke-linejoin='miter' shape-rendering='crispEdges'/>
<polyline points='614.00,499.50 618.70,495.80 620.30,497.20 622.00,495.00 624.70,492.80 629.00,496.10 633.30,498.20 635.40,498.80 641.90,496.60 643.50,498.20 645.10,495.50 646.20,495.00' fill='none' stroke='#000000' stroke-width='1' stroke-linejoin='miter' shape-rendering='crispEdges'/>
</g>
<rect x='187' y='90' width='2' height='411' fill='#808080'/>
<rect x='189' y='89' width='460' height='2' fill='#808080'/>
<rect x='646' y='89' width='3' height='412' fill='#808080'/>
<rect x='184' y='90' width='5' height='1' fill='#808080'/>
<polyline points='189.00,391.50 199.50,391.50 199.50,384.00 200.50,370.00 201.50,363.50 202.50,363.50 203.50,377.00 204.50,391.50 205.00,377.00 205.50,363.50 209.50,363.50 210.00,350.00 210.50,336.50 214.50,336.50 214.50,323.00 215.50,309.50 226.50,309.50 227.00,295.00 227.50,281.50 238.50,281.50 239.50,255.50 245.00,255.50 246.00,243.00 247.50,227.50 248.50,227.50 249.50,213.50 250.50,199.50 252.00,199.50 253.00,186.00 253.50,166.00 255.00,146.00 256.50,143.50 258.00,117.50 261.00,117.50 261.00,111.00 262.50,99.00 263.70,90.50 375.60,90.50 377.00,117.00 380.00,145.00 383.00,175.00 383.50,209.00 386.50,247.00 387.50,289.00 389.00,333.00 389.50,351.00 390.00,399.00 392.10,420.00 397.60,499.50' fill='none' stroke='#00ffff' stroke-width='1' stroke-linejoin='miter' shape-rendering='crispEdges'/>
<rect x='188' y='501' width='1' height='4' fill='#808080'/>
<text transform='translate(188.5,519) scale(0.92,1)' text-anchor='middle' font-size='12' fill='#000'>00:00</text>
<rect x='226' y='501' width='1' height='4' fill='#808080'/>
<text transform='translate(226.5,519) scale(0.92,1)' text-anchor='middle' font-size='12' fill='#000'>02:00</text>
<rect x='265' y='501' width='1' height='4' fill='#808080'/>
<text transform='translate(265.5,519) scale(0.92,1)' text-anchor='middle' font-size='12' fill='#000'>04:00</text>
<rect x='303' y='501' width='1' height='4' fill='#808080'/>
<text transform='translate(303.5,519) scale(0.92,1)' text-anchor='middle' font-size='12' fill='#000'>06:00</text>
<rect x='341' y='501' width='1' height='4' fill='#808080'/>
<text transform='translate(341.5,519) scale(0.92,1)' text-anchor='middle' font-size='12' fill='#000'>08:00</text>
<rect x='380' y='501' width='1' height='4' fill='#808080'/>
<text transform='translate(380.5,519) scale(0.92,1)' text-anchor='middle' font-size='12' fill='#000'>10:00</text>
<rect x='418' y='501' width='1' height='4' fill='#808080'/>
<text transform='translate(418.5,519) scale(0.92,1)' text-anchor='middle' font-size='12' fill='#000'>12:00</text>
<rect x='456' y='501' width='1' height='4' fill='#808080'/>
<text transform='translate(456.5,519) scale(0.92,1)' text-anchor='middle' font-size='12' fill='#000'>14:00</text>
<rect x='495' y='501' width='1' height='4' fill='#808080'/>
<text transform='translate(495.5,519) scale(0.92,1)' text-anchor='middle' font-size='12' fill='#000'>16:00</text>
<rect x='533' y='501' width='1' height='4' fill='#808080'/>
<text transform='translate(533.5,519) scale(0.92,1)' text-anchor='middle' font-size='12' fill='#000'>18:00</text>
<rect x='571' y='501' width='1' height='4' fill='#808080'/>
<text transform='translate(571.5,519) scale(0.92,1)' text-anchor='middle' font-size='12' fill='#000'>20:00</text>
<rect x='610' y='501' width='1' height='4' fill='#808080'/>
<text transform='translate(610.5,519) scale(0.92,1)' text-anchor='middle' font-size='12' fill='#000'>22:00</text>
<rect x='648' y='501' width='1' height='4' fill='#808080'/>
<text transform='translate(648.5,519) scale(0.92,1)' text-anchor='middle' font-size='12' fill='#000'>24:00</text>
<rect x='347' y='496' width='2' height='13' fill='#ffff00'/>
<rect x='352' y='496' width='2' height='13' fill='#808080'/>
<rect x='485' y='496' width='2' height='13' fill='#808080'/>
<rect x='505' y='496' width='2' height='13' fill='#ffff00'/>
<rect x='637' y='496' width='2' height='13' fill='#000000'/>
<text transform='translate(10,530) scale(0.92,1)' text-anchor='start' font-size='12' fill='#000'>08:13</text>
<path d='M40,529 A4.5,5 0 0 1 49,529 Z' fill='#ffff00'/>
<text transform='translate(340,530) scale(0.92,1)' text-anchor='end' font-size='12' fill='#000'>08:21</text>
<circle cx='348' cy='526' r='3.6' fill='#ffff00'/>
<rect x='348' y='520' width='6' height='6' fill='#ffffff'/>
<rect x='348' y='520' width='1' height='1' fill='#0000c0'/>
<rect x='353' y='520' width='1' height='1' fill='#0000c0'/>
<rect x='348' y='525' width='1' height='1' fill='#0000c0'/>
<rect x='344' y='522' width='1' height='1' fill='#ffff80'/>
<rect x='344' y='529' width='1' height='1' fill='#ffff80'/>
<rect x='347' y='531' width='1' height='1' fill='#ffff80'/>
<rect x='351' y='530' width='1' height='1' fill='#ffff80'/>
<rect x='352' y='528' width='1' height='1' fill='#ffff80'/>
<path d='M355.5,522 L358.5,527 L356.5,527 L356.5,530 L354.5,530 L354.5,527 L352.5,527 Z' fill='#ffff00' stroke='#000' stroke-width='0.8'/>
<text transform='translate(360,530) scale(0.92,1)' text-anchor='start' font-size='12' fill='#000'>08:36</text>
<text transform='translate(473,530) scale(0.92,1)' text-anchor='start' font-size='12' fill='#000'>16:35</text>
<rect x='503.5' y='523.5' width='5' height='5' fill='none' stroke='#ffff00' stroke-width='1'/>
<text transform='translate(511,530) scale(0.92,1)' text-anchor='start' font-size='12' fill='#000'>:3</text>
<circle cx='638.5' cy='525.5' r='4.6' fill='#000'/>
<path d='M636,522 Q634.5,525.5 636,529' fill='none' stroke='#fff' stroke-width='0.8'/>
<rect x='1' y='534' width='86' height='86' fill='#c0c0c0'/>
<rect x='1' y='534' width='1' height='86' fill='#a8a8a8'/>
<rect x='1' y='534' width='86' height='1' fill='#b4b4b4'/>
<rect x='88' y='534' width='116' height='86' fill='#c0c0c0'/>
<rect x='88' y='534' width='1' height='86' fill='#a8a8a8'/>
<rect x='88' y='534' width='116' height='1' fill='#b4b4b4'/>
<rect x='205' y='534' width='117' height='86' fill='#c0c0c0'/>
<rect x='205' y='534' width='1' height='86' fill='#a8a8a8'/>
<rect x='205' y='534' width='117' height='1' fill='#b4b4b4'/>
<rect x='323' y='534' width='117' height='86' fill='#c0c0c0'/>
<rect x='323' y='534' width='1' height='86' fill='#a8a8a8'/>
<rect x='323' y='534' width='117' height='1' fill='#b4b4b4'/>
<rect x='441' y='534' width='117' height='86' fill='#c0c0c0'/>
<rect x='441' y='534' width='1' height='86' fill='#a8a8a8'/>
<rect x='441' y='534' width='117' height='1' fill='#b4b4b4'/>
<rect x='559' y='534' width='117' height='86' fill='#c0c0c0'/>
<rect x='559' y='534' width='1' height='86' fill='#a8a8a8'/>
<rect x='559' y='534' width='117' height='1' fill='#b4b4b4'/>
<rect x='677' y='534' width='117' height='86' fill='#c0c0c0'/>
<rect x='677' y='534' width='1' height='86' fill='#a8a8a8'/>
<rect x='677' y='534' width='117' height='1' fill='#b4b4b4'/>
<rect x='795' y='534' width='40' height='86' fill='#c0c0c0'/>
<rect x='795' y='534' width='1' height='86' fill='#a8a8a8'/>
<rect x='795' y='534' width='40' height='1' fill='#b4b4b4'/>
<text transform='translate(9,552) scale(0.955,1)' text-anchor='start' font-size='12' fill='#000' font-weight='bold'>Sensor</text>
<text transform='translate(9,568) scale(0.97,1)' text-anchor='start' font-size='12' fill='#000' font-weight='bold'>MinWert</text>
<text transform='translate(9,584) scale(0.97,1)' text-anchor='start' font-size='12' fill='#000' font-weight='bold'>MaxWert</text>
<text transform='translate(9,600) scale(0.973,1)' text-anchor='start' font-size='12' fill='#000' font-weight='bold'>Durchschnitt</text>
<text transform='translate(9,616) scale(1.08,1)' text-anchor='start' font-size='12' fill='#000' font-weight='bold'>30.12. 23:55</text>
<text transform='translate(95,552) scale(1.0,1)' text-anchor='start' font-size='12' fill='#000' font-weight='bold'>T- 2m aktiv</text>
<text transform='translate(198.5,552) scale(1.0,1)' text-anchor='end' font-size='12' fill='#000' font-weight='bold'>°C</text>
<text transform='translate(101,568) scale(0.917,1)' text-anchor='start' font-size='12' fill='#000'>22:50</text>
<text transform='translate(198.5,568) scale(0.937,1)' text-anchor='end' font-size='12' fill='#000'>-0.3</text>
<text transform='translate(101,584) scale(0.915,1)' text-anchor='start' font-size='12' fill='#000'>11:20</text>
<text transform='translate(198.5,584) scale(0.915,1)' text-anchor='end' font-size='12' fill='#000'>1.2</text>
<text transform='translate(101,600) scale(0.882,1)' text-anchor='start' font-size='12' fill='#000'>( - 2.76 )</text>
<text transform='translate(198.5,600) scale(0.887,1)' text-anchor='end' font-size='12' fill='#000'>0.54</text>
<text transform='translate(198.5,616) scale(1.06,1)' text-anchor='end' font-size='12' fill='#ff0000' font-weight='bold'>-0.3</text>
<text transform='translate(213,552) scale(1.0,1)' text-anchor='start' font-size='12' fill='#000' font-weight='bold'>F- 2m aktiv</text>
<text transform='translate(316.5,552) scale(1.0,1)' text-anchor='end' font-size='12' fill='#000' font-weight='bold'>%</text>
<text transform='translate(219,568) scale(0.929,1)' text-anchor='start' font-size='12' fill='#000'>14:55</text>
<text transform='translate(316.5,568) scale(0.915,1)' text-anchor='end' font-size='12' fill='#000'>93</text>
<text transform='translate(219,584) scale(0.915,1)' text-anchor='start' font-size='12' fill='#000'>00:00</text>
<text transform='translate(316.5,584) scale(0.915,1)' text-anchor='end' font-size='12' fill='#000'>95</text>
<text transform='translate(316.5,600) scale(0.915,1)' text-anchor='end' font-size='12' fill='#000'>94</text>
<text transform='translate(216,616) scale(0.882,1)' text-anchor='start' font-size='12' fill='#000'>4.41 g/m³</text>
<text transform='translate(316.5,616) scale(1.06,1)' text-anchor='end' font-size='12' fill='#000' font-weight='bold'>93</text>
<text transform='translate(331,552) scale(1.0,1)' text-anchor='start' font-size='12' fill='#000' font-weight='bold'>Luftdruck</text>
<text transform='translate(434.5,552) scale(1.0,1)' text-anchor='end' font-size='12' fill='#000' font-weight='bold'>hPa</text>
<text transform='translate(337,568) scale(0.929,1)' text-anchor='start' font-size='12' fill='#000'>15:15</text>
<text transform='translate(434.5,568) scale(0.914,1)' text-anchor='end' font-size='12' fill='#000'>1030.9</text>
<text transform='translate(337,584) scale(0.915,1)' text-anchor='start' font-size='12' fill='#000'>10:45</text>
<text transform='translate(434.5,584) scale(0.915,1)' text-anchor='end' font-size='12' fill='#000'>1033.0</text>
<text transform='translate(331,600) scale(0.943,1)' text-anchor='start' font-size='12' fill='#000'>^0.7hPa/h</text>
<text transform='translate(434.5,600) scale(0.915,1)' text-anchor='end' font-size='12' fill='#000'>1031.8</text>
<text transform='translate(331,616) scale(0.877,1)' text-anchor='start' font-size='12' fill='#000'>veränderlich</text>
<text transform='translate(434.5,616) scale(1.06,1)' text-anchor='end' font-size='12' fill='#000' font-weight='bold'>1031.4</text>
<text transform='translate(448.5,552) scale(1.0,1)' text-anchor='start' font-size='12' fill='#000' font-weight='bold'>Windböen</text>
<text transform='translate(552.5,552) scale(1.0,1)' text-anchor='end' font-size='12' fill='#000' font-weight='bold'>km/h</text>
<text transform='translate(448.5,568) scale(0.868,1)' text-anchor='start' font-size='12' fill='#000'>Ø 10 min.</text>
<text transform='translate(552.5,568) scale(0.915,1)' text-anchor='end' font-size='12' fill='#000'>5.6</text>
<text transform='translate(455,584) scale(0.915,1)' text-anchor='start' font-size='12' fill='#000'>11:00</text>
<text transform='translate(552.5,584) scale(0.912,1)' text-anchor='end' font-size='12' fill='#000'>O 11.3</text>
<text transform='translate(552.5,600) scale(0.915,1)' text-anchor='end' font-size='12' fill='#000'>2.7</text>
<text transform='translate(455,616) scale(0.867,1)' text-anchor='start' font-size='12' fill='#000'>1 Bft O-SO</text>
<text transform='translate(552.5,616) scale(1.06,1)' text-anchor='end' font-size='12' fill='#000' font-weight='bold'>4.8</text>
<text transform='translate(567,552) scale(1.0,1)' text-anchor='start' font-size='12' fill='#000' font-weight='bold'>Regen</text>
<text transform='translate(670.5,552) scale(1.0,1)' text-anchor='end' font-size='12' fill='#000' font-weight='bold'>l/m²</text>
<text transform='translate(566.5,568) scale(0.958,1)' text-anchor='start' font-size='12' fill='#000'>10:50 h</text>
<text transform='translate(572,584) scale(0.915,1)' text-anchor='start' font-size='12' fill='#000'>09:00</text>
<text transform='translate(670.5,584) scale(0.915,1)' text-anchor='end' font-size='12' fill='#000'>0.2</text>
<text transform='translate(566.5,600) scale(0.893,1)' text-anchor='start' font-size='12' fill='#000'>Gesamt:</text>
<text transform='translate(670.5,600) scale(0.915,1)' text-anchor='end' font-size='12' fill='#000'>0.2</text>
<text transform='translate(569.5,616) scale(0.885,1)' text-anchor='start' font-size='12' fill='#000'>0.2 l/m²</text>
<text transform='translate(670.5,616) scale(1.06,1)' text-anchor='end' font-size='12' fill='#000' font-weight='bold'>0.0</text>
<text transform='translate(685,552) scale(1.0,1)' text-anchor='start' font-size='12' fill='#000' font-weight='bold'>PMV-1:0</text>
<text transform='translate(685,568) scale(0.867,1)' text-anchor='start' font-size='12' fill='#000'>WC -0.3 °C</text>
<text transform='translate(685,584) scale(0.873,1)' text-anchor='start' font-size='12' fill='#000'>TP -1.3 °C</text>
<text transform='translate(685,600) scale(0.926,1)' text-anchor='start' font-size='12' fill='#000'>0.1hPa/3h</text>
<text transform='translate(685,616) scale(0.926,1)' text-anchor='start' font-size='12' fill='#000'>0.1hPa/1h</text>
</svg></body></html>
